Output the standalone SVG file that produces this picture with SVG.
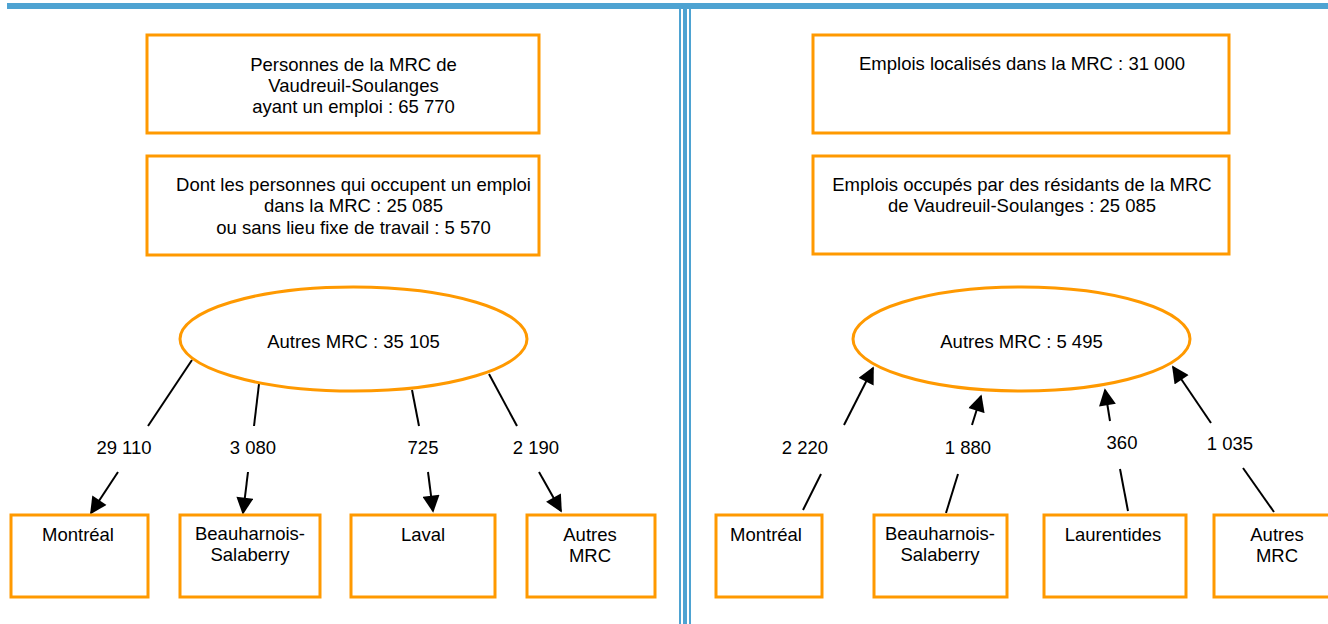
<svg xmlns="http://www.w3.org/2000/svg" width="1328" height="624" viewBox="0 0 1328 624">
<style>
.box{fill:#fff;stroke:#ff9900;stroke-width:3}
.ell{fill:#fff;stroke:#ff9900;stroke-width:3}
.t{font-family:"Liberation Sans",Arial,sans-serif;font-size:18.5px;fill:#000;text-anchor:middle}
.c{stroke:#000;stroke-width:2;fill:none}
.bl{fill:#4ea3d2}
</style>
<defs>
<marker id="ah" viewBox="0 0 10 10" refX="9" refY="5" markerWidth="9" markerHeight="8.5" markerUnits="strokeWidth" orient="auto">
<path d="M0,0 L10,5 L0,10 z" fill="#000"/>
</marker>
</defs>
<g id="frame">
<rect class="bl" x="7" y="3" width="1321" height="6"/>
<rect class="bl" x="679" y="9" width="2" height="615"/>
<rect class="bl" x="683" y="9" width="4" height="615"/>
<rect class="bl" x="689" y="9" width="2" height="615"/>
</g>
<g id="connectors">
<line class="c" x1="192" y1="360" x2="148" y2="426"/>
<line class="c" x1="118" y1="472" x2="91" y2="513" marker-end="url(#ah)"/>
<line class="c" x1="259" y1="384" x2="254" y2="426"/>
<line class="c" x1="248" y1="472" x2="243" y2="513" marker-end="url(#ah)"/>
<line class="c" x1="412" y1="390" x2="419" y2="426"/>
<line class="c" x1="428" y1="472" x2="433" y2="511" marker-end="url(#ah)"/>
<line class="c" x1="489" y1="374" x2="517" y2="426"/>
<line class="c" x1="539" y1="472" x2="561" y2="511" marker-end="url(#ah)"/>
<line class="c" x1="844" y1="425" x2="873" y2="368" marker-end="url(#ah)"/>
<line class="c" x1="821" y1="474" x2="803" y2="510"/>
<line class="c" x1="972" y1="425" x2="981" y2="396" marker-end="url(#ah)"/>
<line class="c" x1="958" y1="474" x2="946" y2="513"/>
<line class="c" x1="1110" y1="421" x2="1105" y2="390" marker-end="url(#ah)"/>
<line class="c" x1="1120" y1="469" x2="1128" y2="511"/>
<line class="c" x1="1211" y1="423" x2="1173" y2="367" marker-end="url(#ah)"/>
<line class="c" x1="1243" y1="468" x2="1274" y2="512"/>
<text class="t" x="124" y="454">29 110</text>
<text class="t" x="253" y="454">3 080</text>
<text class="t" x="423" y="454">725</text>
<text class="t" x="536" y="454">2 190</text>
<text class="t" x="805" y="454">2 220</text>
<text class="t" x="968" y="454">1 880</text>
<text class="t" x="1122" y="449">360</text>
<text class="t" x="1230" y="450">1 035</text>
</g>
<g id="personnes">
<rect class="box" x="147" y="35" width="392" height="98"/>
<text class="t" x="353.5" y="71">Personnes de la MRC de</text>
<text class="t" x="353.5" y="92">Vaudreuil-Soulanges</text>
<text class="t" x="353.5" y="113">ayant un emploi : 65 770</text>
</g>
<g id="dont">
<rect class="box" x="147" y="156" width="392" height="99"/>
<text class="t" x="353.5" y="191">Dont les personnes qui occupent un emploi</text>
<text class="t" x="353.5" y="212">dans la MRC : 25 085</text>
<text class="t" x="353.5" y="234">ou sans lieu fixe de travail : 5 570</text>
</g>
<g id="autres-left">
<ellipse class="ell" cx="353.5" cy="339" rx="173.5" ry="52"/>
<text class="t" x="353.5" y="348">Autres MRC : 35 105</text>
</g>
<g id="l-montreal">
<rect class="box" x="11" y="515" width="137" height="82"/>
<text class="t" x="78" y="541">Montréal</text>
</g>
<g id="l-beauharnois">
<rect class="box" x="180" y="515" width="140" height="82"/>
<text class="t" x="250" y="540">Beauharnois-</text>
<text class="t" x="250" y="561">Salaberry</text>
</g>
<g id="l-laval">
<rect class="box" x="351" y="515" width="144" height="82"/>
<text class="t" x="423" y="541">Laval</text>
</g>
<g id="l-autres">
<rect class="box" x="527" y="515" width="128" height="82"/>
<text class="t" x="590" y="541">Autres</text>
<text class="t" x="590" y="562">MRC</text>
</g>
<g id="emplois-localises">
<rect class="box" x="813" y="35" width="416" height="98"/>
<text class="t" x="1022" y="70">Emplois localisés dans la MRC : 31 000</text>
</g>
<g id="emplois-occupes">
<rect class="box" x="813" y="156" width="416" height="98"/>
<text class="t" x="1022" y="191">Emplois occupés par des résidants de la MRC</text>
<text class="t" x="1022" y="212">de Vaudreuil-Soulanges : 25 085</text>
</g>
<g id="autres-right">
<ellipse class="ell" cx="1021.5" cy="339" rx="168.5" ry="52"/>
<text class="t" x="1021.5" y="348">Autres MRC : 5 495</text>
</g>
<g id="r-montreal">
<rect class="box" x="716" y="515" width="106" height="82"/>
<text class="t" x="766" y="541">Montréal</text>
</g>
<g id="r-beauharnois">
<rect class="box" x="874" y="515" width="133" height="82"/>
<text class="t" x="940" y="540">Beauharnois-</text>
<text class="t" x="940" y="561">Salaberry</text>
</g>
<g id="r-laurentides">
<rect class="box" x="1044" y="515" width="142" height="82"/>
<text class="t" x="1113" y="541">Laurentides</text>
</g>
<g id="r-autres">
<rect class="box" x="1214" y="515" width="120" height="82"/>
<text class="t" x="1277" y="541">Autres</text>
<text class="t" x="1277" y="562">MRC</text>
</g>
</svg>
